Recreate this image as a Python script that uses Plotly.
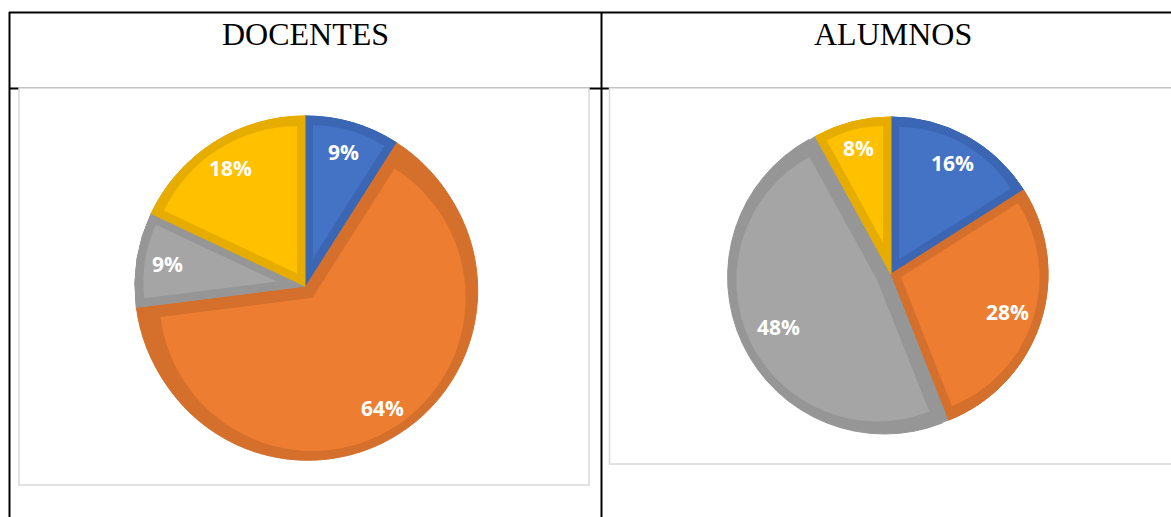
import math
import plotly.graph_objects as go

W, H = 1171, 517

# ---- data ----
categories = ["Categoría 1", "Categoría 2", "Categoría 3", "Categoría 4"]
docentes_values = [9, 64, 9, 18]
alumnos_values = [16, 28, 48, 8]
titles = ["DOCENTES", "ALUMNOS"]

fill_colors = ["#4472C4", "#ED7D31", "#A5A5A5", "#FFC000"]
line_colors = ["#3B66B3", "#D4702C", "#969696", "#E6AD00"]

docentes_pull = [0, 0.03, 0, 0]
alumnos_pull = [0, 0, 0.045, 0]


def px_x(x):
    return x / W


def px_y(y):
    return 1 - y / H


BORDER = 8  # px width of darker inner border of each slice
# pie geometry in pixels
pies = [
    dict(values=docentes_values, pull=docentes_pull, cx=305, cy=286, R=170,
         lab=[0.82, 0.82, 0.82, 0.82]),
    dict(values=alumnos_values, pull=alumnos_pull, cx=891, cy=274, R=157,
         lab=[0.81, 0.78, 0.75, 0.83]),
]

fig = go.Figure()
annotations = []


def dom(cx, cy, h):
    return dict(x=[px_x(cx - h), px_x(cx + h)], y=[px_y(cy + h), px_y(cy - h)])


for p in pies:
    R = p["R"]
    vals = p["values"]
    total = sum(vals)
    maxpull = max(p["pull"])
    # unexploded dark pie underneath (fills the explosion gap with border colour)
    fig.add_trace(go.Pie(
        labels=categories, values=vals, sort=False,
        direction="clockwise", rotation=0, textinfo="none",
        hoverinfo="skip", showlegend=False,
        marker=dict(colors=line_colors, line=dict(color=line_colors, width=1)),
        domain=dom(p["cx"], p["cy"], R),
    ))
    # exploded dark pie: border colour
    fig.add_trace(go.Pie(
        labels=categories, values=vals, pull=p["pull"], sort=False,
        direction="clockwise", rotation=0, textinfo="none",
        hoverinfo="label+percent", showlegend=False,
        marker=dict(colors=line_colors, line=dict(color=line_colors, width=1)),
        domain=dom(p["cx"], p["cy"], R * (1 + maxpull)),
    ))
    # inset lighter fill of each slice
    cum = 0
    for i, v in enumerate(vals):
        theta = v / total * 2 * math.pi
        d = BORDER / math.sin(theta / 2)
        delta = p["pull"][i] * R
        r_in = R - BORDER - d
        vv, cc, pp, ll = [], [], [], []
        for val, col, pl, lb in [(cum, "rgba(0,0,0,0)", 0, "a"),
                                 (v, fill_colors[i], (delta + d) / r_in, categories[i]),
                                 (total - cum - v, "rgba(0,0,0,0)", 0, "b")]:
            if val > 0:
                vv.append(val); cc.append(col); pp.append(pl); ll.append(lb)
        fig.add_trace(go.Pie(
            labels=ll, values=vv, pull=pp, sort=False, direction="clockwise",
            rotation=0, textinfo="none", hoverinfo="skip", showlegend=False,
            marker=dict(colors=cc, line=dict(width=0)),
            domain=dom(p["cx"], p["cy"], R - BORDER + delta),
        ))
        # label
        mid = (cum + v / 2) / total * 2 * math.pi
        rr = p["lab"][i] * R + delta
        x = p["cx"] + rr * math.sin(mid)
        y = p["cy"] - rr * math.cos(mid)
        annotations.append(dict(
            x=px_x(x), y=px_y(y), xref="paper", yref="paper",
            text=f"<b>{round(v / total * 100)}%</b>", showarrow=False,
            xanchor="center", yanchor="middle",
            font=dict(family="Open Sans", size=21, color="white"),
        ))
        cum += v

# headers
for t, cx in zip(titles, [305, 893]):
    annotations.append(dict(
        x=px_x(cx), y=px_y(34), xref="paper", yref="paper", text=t,
        showarrow=False, xanchor="center", yanchor="middle",
        font=dict(family="Liberation Serif", size=32, color="black"),
    ))

shapes = []
black = dict(color="black", width=2)
# table lines
shapes.append(dict(type="line", xref="paper", yref="paper", layer="below",
                   x0=px_x(9), x1=px_x(1180), y0=px_y(12.5), y1=px_y(12.5), line=black))
shapes.append(dict(type="line", xref="paper", yref="paper", layer="below",
                   x0=px_x(9.5), x1=px_x(9.5), y0=px_y(12), y1=px_y(530), line=black))
shapes.append(dict(type="line", xref="paper", yref="paper", layer="below",
                   x0=px_x(601.5), x1=px_x(601.5), y0=px_y(12), y1=px_y(530), line=black))
shapes.append(dict(type="line", xref="paper", yref="paper", layer="below",
                   x0=px_x(9), x1=px_x(1180), y0=px_y(88.5), y1=px_y(88.5), line=black))
# chart boxes
shapes.append(dict(type="rect", xref="paper", yref="paper", layer="below",
                   x0=px_x(19), x1=px_x(589), y0=px_y(485), y1=px_y(88),
                   fillcolor="white", line=dict(color="#D9D9D9", width=1.5)))
shapes.append(dict(type="rect", xref="paper", yref="paper", layer="below",
                   x0=px_x(609.5), x1=px_x(1185), y0=px_y(464), y1=px_y(88),
                   fillcolor="white", line=dict(color="#D9D9D9", width=1.5)))

fig.update_layout(
    width=W, height=H,
    margin=dict(l=0, r=0, t=0, b=0),
    paper_bgcolor="white", plot_bgcolor="white",
    annotations=annotations, shapes=shapes,
)

fig.write_html("out.html")
